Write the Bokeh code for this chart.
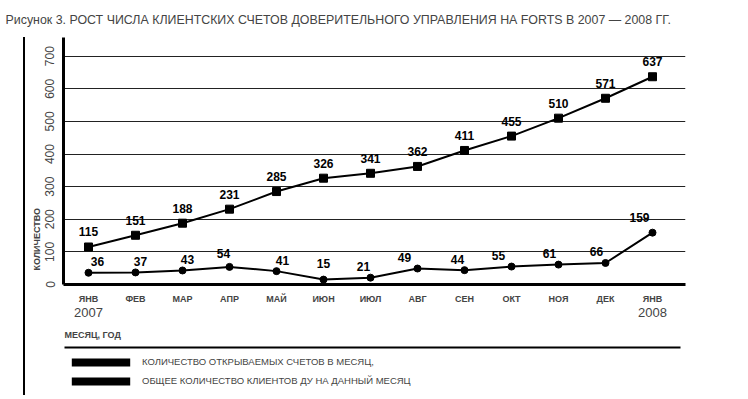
from bokeh.plotting import figure
from bokeh.layouts import column
from bokeh.models import (FixedTicker, ColumnDataSource, LinearAxis, Title, Legend,
                          LegendItem, Range1d)
from bokeh.core.properties import value
from bokeh.embed import file_html
from bokeh.resources import INLINE

months = ["ЯНВ", "ФЕВ", "МАР", "АПР", "МАЙ", "ИЮН", "ИЮЛ", "АВГ", "СЕН", "ОКТ", "НОЯ", "ДЕК", "ЯНВ"]
years = {0: "2007", 12: "2008"}
total_clients = [115, 151, 188, 231, 285, 326, 341, 362, 411, 455, 510, 571, 637]
opened_accounts = [36, 37, 43, 54, 41, 15, 21, 49, 44, 55, 61, 66, 159]
y_ticks = [0, 100, 200, 300, 400, 500, 600, 700]
title_text = "Рисунок 3. РОСТ ЧИСЛА КЛИЕНТСКИХ СЧЕТОВ ДОВЕРИТЕЛЬНОГО УПРАВЛЕНИЯ НА FORTS В 2007 — 2008 ГГ."
y_label = "КОЛИЧЕСТВО"
x_label = "МЕСЯЦ, ГОД"
legend_labels = ["КОЛИЧЕСТВО ОТКРЫВАЕМЫХ СЧЕТОВ В МЕСЯЦ,", "ОБЩЕЕ КОЛИЧЕСТВО КЛИЕНТОВ ДУ НА ДАННЫЙ МЕСЯЦ"]

FONT = "Liberation Sans"
W, H1, H2 = 746, 352, 45
FL, FR, FT, FB = 63, 685, 37, 284   # frame edges in page pixels
X0, DX = 88, 47.0                   # page x of first month, px per month
YS = (284 - 55.7) / 700.0           # px per y unit


def dx(px):
    return (px - X0) / DX


def dy(py):
    return (FB - py) / YS


x = list(range(len(months)))

p = figure(width=W, height=H1, output_backend="svg", toolbar_location=None,
           x_range=(dx(FL), dx(FR)), y_range=(0, dy(FT)),
           min_border_left=FL, min_border_right=W - FR,
           min_border_top=FT, min_border_bottom=H1 - FB)
p.outline_line_color = None
p.border_fill_alpha = 0

# title
p.title.text = title_text
p.title.align = "left"
p.title.offset = -(FL - 5)
p.title.standoff = 21
p.title.text_font = FONT
p.title.text_font_size = "12.4px"
p.title.text_font_style = "normal"


def plain_axis(ax):
    ax.major_tick_line_color = None
    ax.minor_tick_line_color = None
    ax.major_tick_out = 0
    ax.major_tick_in = 0
    ax.minor_tick_out = 0
    ax.minor_tick_in = 0


def line_only_axis(**kw):
    ax = LinearAxis(ticker=FixedTicker(ticks=[0]), major_label_overrides={0: " "},
                    major_label_text_font_size="1px", major_label_standoff=0,
                    axis_line_color="black", **kw)
    plain_axis(ax)
    return ax


# x axis (months)
p.xaxis.ticker = FixedTicker(ticks=x)
p.xaxis.major_label_overrides = {i: m for i, m in enumerate(months)}
p.xaxis.major_label_text_font = FONT
p.xaxis.major_label_text_font_style = "bold"
p.xaxis.major_label_text_font_size = "9px"
p.xaxis.major_label_standoff = 9
p.xaxis.axis_line_width = 3
p.xaxis.axis_line_color = "black"
plain_axis(p.xaxis[0])

# year axis
yax = LinearAxis(ticker=FixedTicker(ticks=list(years.keys())), major_label_overrides=years,
                 major_label_text_font=FONT, major_label_text_font_size="13px",
                 major_label_standoff=1, axis_line_color=None)
plain_axis(yax)
p.add_layout(yax, "below")

# x label
p.add_layout(Title(text=x_label, align="left", offset=1, text_font=FONT,
                   text_font_size="9px", text_font_style="bold", standoff=16), "below")

# rule under x label
p.add_layout(line_only_axis(bounds=(dx(64), dx(680)), axis_line_width=2), "below")

# y axis
p.yaxis.ticker = FixedTicker(ticks=y_ticks)
p.yaxis.major_label_orientation = "vertical"
p.yaxis.major_label_text_font = FONT
p.yaxis.major_label_text_font_size = "12px"
p.yaxis.major_label_standoff = 9
p.yaxis.axis_line_width = 3
p.yaxis.axis_line_color = "black"
plain_axis(p.yaxis[0])

p.add_layout(Title(text=y_label, align="left", offset=14, text_font=FONT,
                   text_font_size="9px", text_font_style="bold", standoff=2), "left")

p.xgrid.grid_line_color = None
p.ygrid.grid_line_color = "#222222"
p.ygrid.grid_line_width = 1
p.ygrid.ticker = FixedTicker(ticks=y_ticks[1:])

# series
src = ColumnDataSource(dict(x=x, total=total_clients, opened=opened_accounts,
                            tl=[str(v) for v in total_clients],
                            ol=[str(v) for v in opened_accounts]))
p.line("x", "total", source=src, line_color="black", line_width=2)
p.scatter("x", "total", source=src, marker="square", size=8, color="black")
p.line("x", "opened", source=src, line_color="black", line_width=2)
p.scatter("x", "opened", source=src, marker="circle", size=7, color="black")

p.text("x", "total", text="tl", source=src, text_align="center", text_baseline="middle",
       y_offset=-15, text_font_size="12px", text_font_style="bold", text_color="black",
       text_font=value(FONT))
lower_dx = [9, 5, 5, -6, 6, 0, -7, -13, -7, -13, -9, -9, -13]
lower_dy = [-11, -11, -11, -13, -11, -16, -11, -11, -11, -11, -11, -11, -15]
src2 = ColumnDataSource(dict(x=x, opened=opened_accounts, ol=[str(v) for v in opened_accounts],
                             xo=lower_dx, yo=lower_dy))
p.text("x", "opened", text="ol", source=src2, text_align="center", text_baseline="middle",
       x_offset="xo", y_offset="yo", text_font_size="12px", text_font_style="bold",
       text_color="black", text_font=value(FONT))

# legend strip: separate small figure whose frame holds the legend
q = figure(width=W, height=H2, output_backend="svg", toolbar_location=None,
           x_range=Range1d(0, 1), y_range=Range1d(0, 1),
           min_border_left=FL, min_border_right=0, min_border_top=0, min_border_bottom=0,
           x_axis_type=None, y_axis_type=None)
q.outline_line_color = None
q.border_fill_alpha = 0
q.background_fill_alpha = 0
q.grid.visible = False
# zero-area quads (invisible) that give the legend its solid swatches
sw1 = q.quad(left="x", right="x", top="opened", bottom="opened", source=src,
             fill_color="black", line_color=None)
sw2 = q.quad(left="x", right="x", top="total", bottom="total", source=src,
             fill_color="black", line_color=None)
legend = Legend(items=[LegendItem(label=legend_labels[0], renderers=[sw1]),
                       LegendItem(label=legend_labels[1], renderers=[sw2])],
                location=(1, 11), orientation="vertical",
                glyph_width=73, glyph_height=10, label_height=10, label_standoff=5,
                spacing=8, padding=0, margin=0, border_line_color=None,
                background_fill_alpha=0, label_text_font=FONT,
                label_text_font_size="9.5px")
q.add_layout(legend)

# thin page rule at the left edge of the scanned figure
page = column(p, q, spacing=0,
              styles={"background": "linear-gradient(#000, #000) 23px 37px / 2px 358px no-repeat"})

open("out.html", "w").write(file_html(page, INLINE))
